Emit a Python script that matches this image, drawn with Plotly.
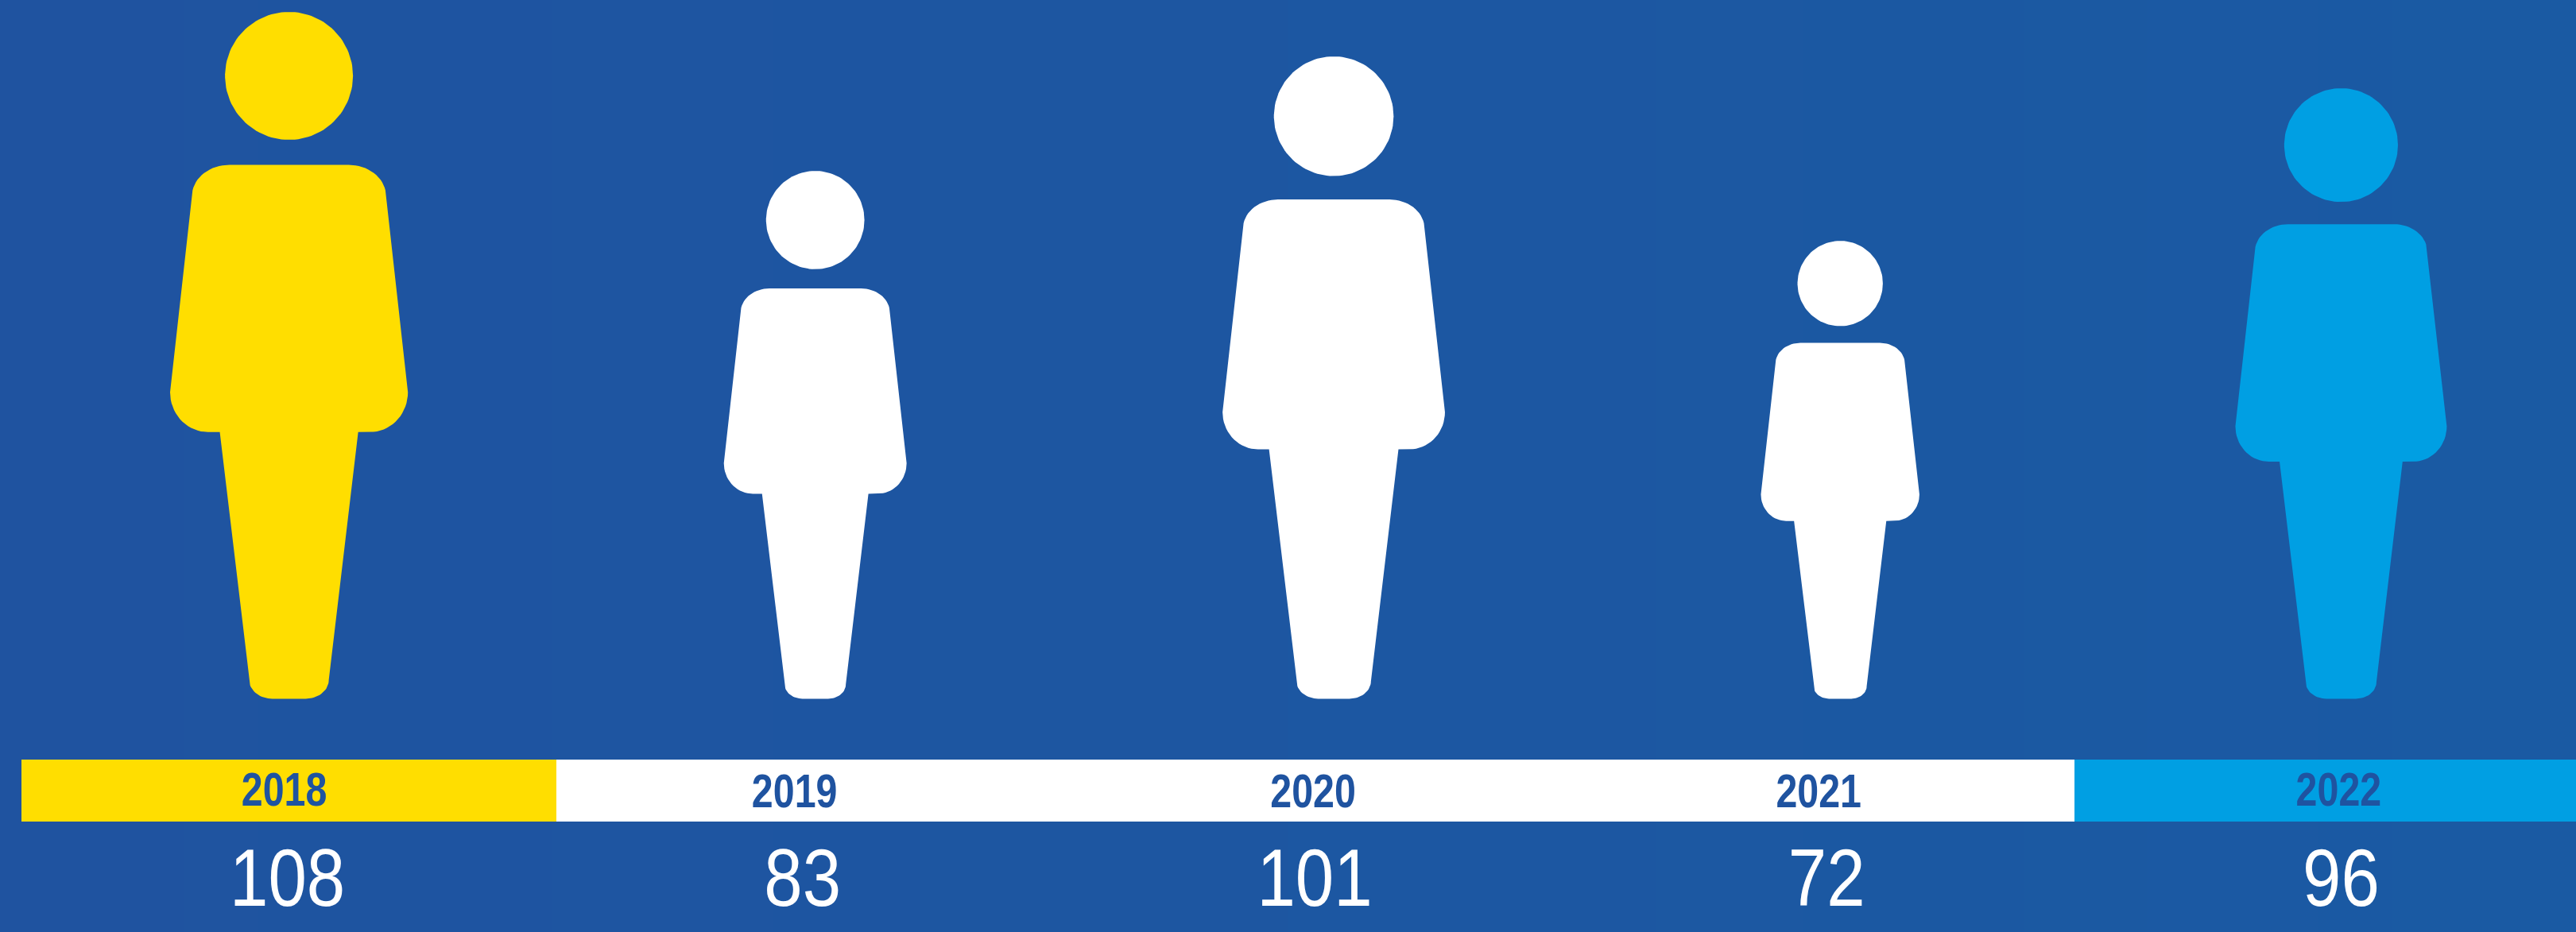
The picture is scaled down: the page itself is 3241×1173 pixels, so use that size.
import numpy as np
import plotly.graph_objects as go

# ---- data ----
years = ["2018", "2019", "2020", "2021", "2022"]
values = [108, 83, 101, 72, 96]
figure_colors = ["#FFDE00", "#FFFFFF", "#FFFFFF", "#FFFFFF", "#009FE3"]
strip_groups = [("#FFDE00", 27, 700), ("#FFFFFF", 700, 2610), ("#009FE3", 2610, 3241)]

# ---- layout constants (pixels of the 3241x1173 canvas) ----
W, H = 3241, 1173
PX = 8.0              # pixels per one unit of value
BASE_PX = 879.4       # pixel row of value 0
LEFT_PX = 214.0       # left edge of first figure
GAP_PX = 397.5        # gap between figures
BG_LEFT, BG_RIGHT = "#1F53A0", "#1A5AA3"
TEXT_BLUE = "#1F53A0"
FONT = "Liberation Sans"

ICON_W = 299.0 / 863.4  # figure width / height


def py(p):
    """pixel row -> y axis value"""
    return (BASE_PX - p) / PX


S = 863.4
def arc(cx, cy, rx, ry, a0, a1, n=18):
    """elliptical arc in reference pixels, returned in unit-person coordinates"""
    a = np.radians(np.linspace(a0, a1, n))
    x = cx + rx * np.cos(a)
    y = cy - ry * np.sin(a)
    return np.column_stack([x / S, (BASE_PX - y) / S])


# right half of the unit person (height 1), from the foot up to the shoulder
right = np.vstack([
    arc(21, 856, 29, 23.4, -90, 0),
    [[87 / S, (BASE_PX - 544) / S], [102 / S, (BASE_PX - 544) / S]],
    arc(102, 494, 47.5, 50, -90, 0),
    arc(75, 247, 47, 39, 0, 90),
])
body_x = np.concatenate([right[:, 0], -right[::-1, 0]])
body_y = np.concatenate([right[:, 1], right[::-1, 1]])
theta = np.linspace(0, 2 * np.pi, 120)
head_x, head_y = 0.0932 * np.cos(theta), 0.9073 + 0.0932 * np.sin(theta)

# centres follow from the figure widths and a constant gap
widths = [v * PX * ICON_W for v in values]
centres = []
edge = LEFT_PX
for w in widths:
    centres.append(edge + w / 2)
    edge += w + GAP_PX
centres = np.array(centres) / PX

year_offset_px = [-6, -26, -26, -27, -3]
year_row_px = [999, 1001, 1001, 1001, 999]
value_offset_px = [-2, -16, -24, -17, 0]
value_row_px = 1115

fig = go.Figure()

# background
fig.add_trace(go.Heatmap(
    x=[0, W / PX], y=[py(H), py(0)], z=[[0, 1], [0, 1]], zsmooth="best",
    colorscale=[[0, BG_LEFT], [1, BG_RIGHT]], showscale=False, hoverinfo="skip"))

# year strip
for col, a, b in strip_groups:
    fig.add_trace(go.Bar(
        orientation="h", y=[py(995)], x=[(b - a) / PX], base=[a / PX],
        width=[78 / PX], marker=dict(color=col, line=dict(width=0)), hoverinfo="skip"))

# people
for year, val, cx, col in zip(years, values, centres, figure_colors):
    fig.add_trace(go.Scatter(
        x=cx + body_x * val, y=body_y * val, mode="lines", fill="toself",
        fillcolor=col, line=dict(width=0, color=col), name=year, hoverinfo="skip"))
    fig.add_trace(go.Scatter(
        x=cx + head_x * val, y=head_y * val, mode="lines", fill="toself",
        fillcolor=col, line=dict(width=0, color=col), name=year, hoverinfo="skip"))

# year labels
fig.add_trace(go.Scatter(
    x=centres + np.array(year_offset_px) / PX, y=[py(r) for r in year_row_px],
    mode="text", text=years, textposition="middle center",
    textfont=dict(family=FONT, size=59, color=TEXT_BLUE, weight="bold"),
    hoverinfo="skip"))

# values
fig.add_trace(go.Scatter(
    x=centres + np.array(value_offset_px) / PX, y=[py(value_row_px)] * len(values),
    mode="text", text=[str(v) for v in values], textposition="middle center",
    textfont=dict(family=FONT, size=102, color="#FFFFFF"),
    hoverinfo="skip"))

fig.update_layout(
    width=W, height=H, margin=dict(l=0, r=0, t=0, b=0), showlegend=False,
    paper_bgcolor="#1C56A1", plot_bgcolor="#1C56A1", barmode="overlay",
    xaxis=dict(range=[0, W / PX], visible=False, fixedrange=True),
    yaxis=dict(range=[py(H), py(0)], visible=False, fixedrange=True),
)

# the reference uses a condensed face: narrow the digits, keeping them as real text
narrow = """
document.body.style.margin='0';
document.querySelectorAll('.textpoint text').forEach(function(t){
  var x=parseFloat(t.getAttribute('x'));
  var k=parseFloat(t.style.fontSize)>80?0.853:0.82;
  t.setAttribute('transform','translate('+x+' 0) scale('+k+' 1) translate('+(-x)+' 0)');
});
"""
fig.write_html("out.html", post_script=narrow, config={"displayModeBar": False})
